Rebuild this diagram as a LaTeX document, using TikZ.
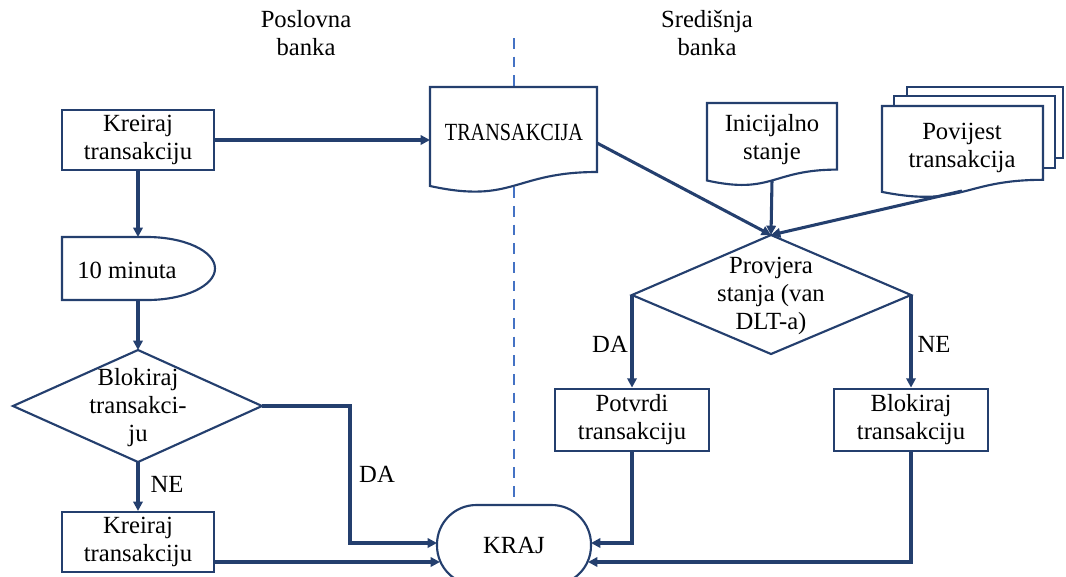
\documentclass[tikz,border=0pt]{standalone}
\usepackage{fontspec}
\setmainfont{Liberation Serif}
\usetikzlibrary{arrows.meta}
\definecolor{navy}{HTML}{243F6E}
\definecolor{dashblue}{HTML}{4472C4}
\begin{document}
\begin{tikzpicture}[x=0.75pt,y=-0.75pt,
  font=\fontsize{18.5}{21}\selectfont,
  shp/.style={draw=navy,line width=1.6pt,fill=white},
  box/.style={shp,rectangle,minimum width=114pt,minimum height=45pt,align=center,inner sep=0pt},
  txt/.style={align=center,inner sep=0pt},
  conn/.style={draw=navy,line width=2.3pt,-{Triangle[length=7pt,width=7pt]}},
  sep/.style={draw=dashblue,line width=2.2pt,dash pattern=on 8pt off 6pt},
]
\useasboundingbox (0,0) rectangle (1066,576);
\clip (0,0) rectangle (1066,576);

% headings
\node[txt] (hl) at (306,33) {Poslovna\\banka};
\node[txt] (hr) at (707,33) {Središnja\\banka};

% separator
\coordinate (sepT) at (514,38);
\coordinate (sepB) at (514,500);
\draw[sep] (sepT) -- (sepB);

% left column
\node[box] (k1) at (138,140) {Kreiraj\\transakciju};

% delay shape
\draw[shp] (62,237) -- (147,237) .. controls (184.6,237) and (215,251.1) .. (215,268.5)
  .. controls (215,285.9) and (184.6,300) .. (147,300) -- (62,300) -- cycle;
\coordinate (dlN) at (138,237);
\coordinate (dlS) at (138,300);
\node[txt] (dl) at (127,270) {10 minuta};

% decision left
\coordinate (bdT) at (138,350);
\coordinate (bdB) at (138,462);
\coordinate (bdL) at (13,406);
\coordinate (bdR) at (262,406);
\draw[shp] (bdT) -- (bdR) -- (bdB) -- (bdL) -- cycle;
\node[txt] (bd) at (138,408) {Blokiraj\\transakci-\\ju};

\node[box] (k2) at (138,542) {Kreiraj\\transakciju};

% TRANSAKCIJA document
\draw[shp] (430,87) -- (597,87) -- (597,172) .. controls (513.5,172) and (513.5,204.3) .. (430,186) -- cycle;
\node[txt] (tr) at (514,132) {\scalebox{0.82}[1]{TRANSAKCIJA}};
\coordinate (trW) at (430,140);
\coordinate (trE) at (597,143);

% Inicijalno stanje document
\draw[shp] (707,103) -- (837,103) -- (837,169.6) .. controls (772,169.6) and (772,194.9) .. (707,180.5) -- cycle;
\node[txt] (ini) at (772,140) {Inicijalno\\stanje};
\coordinate (iniB) at (772,180.4);

% Povijest transakcija multidocument
\draw[shp] (907,87) rectangle (1063,158);
\draw[shp] (894,96) rectangle (1055,168);
\draw[shp] (882,106) -- (1043,106) -- (1043,179.8) .. controls (962.5,179.8) and (962.5,207.8) .. (882,191.9) -- cycle;
\node[txt] (pov) at (962,148) {Povijest\\transakcija};
\coordinate (povB) at (962,191);

% decision right
\coordinate (pdT) at (771,235);
\coordinate (pdB) at (771,354);
\coordinate (pdL) at (632,295);
\coordinate (pdR) at (911,295);
\draw[shp] (pdT) -- (pdR) -- (pdB) -- (pdL) -- cycle;
\node[txt] (pd) at (771,296) {Provjera\\stanja (van\\DLT-a)};

\node[box,minimum width=115pt,minimum height=47pt] (pot) at (632,420) {Potvrdi\\transakciju};
\node[box,minimum width=115pt,minimum height=47pt] (blk) at (911,420) {Blokiraj\\transakciju};

% end terminal
\node[shp,minimum width=115.5pt,minimum height=60pt,rounded corners=29.5pt,inner sep=0pt] (kraj) at (514,545) {KRAJ};
\coordinate (kW1) at (437,543);
\coordinate (kW2) at (440,562);
\coordinate (kE1) at (591,543);
\coordinate (kE2) at (588,562);

% connectors
\draw[conn] (k1.east) -- (trW);
\draw[conn] (k1.south) -- (dlN);
\draw[conn] (dlS) -- (bdT);
\draw[conn] (bdB) -- node[right=5pt, pos=0.45] {NE} (k2.north);
\draw[conn] (bdR) -- (350,406) |- (kW1);
\node[txt] (da1) at (377,474) {DA};
\draw[conn] (k2.east |- kW2) -- (kW2);

\draw[conn] (trE) -- (pdT);
\draw[conn] (iniB) -- (pdT);
\draw[conn] (povB) -- (pdT);
\draw[conn] (pdL) -- (pdL |- pot.north);
\node[txt] (da2) at (610,344) {DA};
\draw[conn] (pdR) -- (pdR |- blk.north);
\node[txt] (ne2) at (934,344) {NE};
\draw[conn] (pot.south) |- (kE1);
\draw[conn] (blk.south) |- (kE2);
\end{tikzpicture}
\end{document}
